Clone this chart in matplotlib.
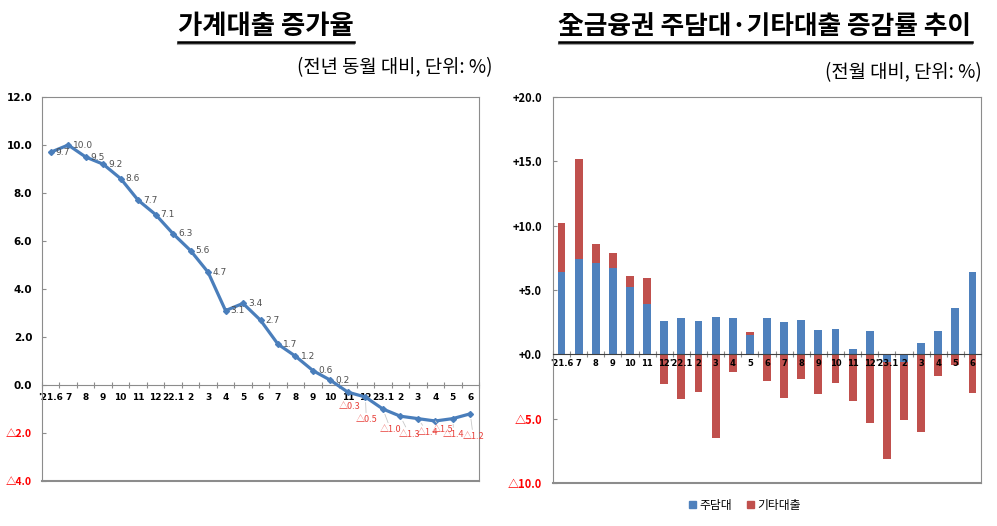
import matplotlib
matplotlib.use("Agg")
import matplotlib.pyplot as plt
import numpy as np
from matplotlib.patches import Patch
from matplotlib.lines import Line2D

plt.rcParams['font.family'] = ['Noto Sans CJK KR', 'DejaVu Sans']

# ---------------- data ----------------
left_labels = ["'21.6", "7", "8", "9", "10", "11", "12", "22.1", "2", "3", "4", "5", "6",
               "7", "8", "9", "10", "11", "12", "23.1", "2", "3", "4", "5", "6"]
hh_growth = [9.7, 10.0, 9.5, 9.2, 8.6, 7.7, 7.1, 6.3, 5.6, 4.7, 3.1, 3.4, 2.7,
             1.7, 1.2, 0.6, 0.2, -0.3, -0.5, -1.0, -1.3, -1.4, -1.5, -1.4, -1.2]

right_labels = ["'21.6", "7", "8", "9", "10", "11", "12", "'22.1", "2", "3", "4", "5", "6",
                "7", "8", "9", "10", "11", "12", "'23.1", "2", "3", "4", "5", "6"]
mortgage = [6.4, 7.4, 7.1, 6.7, 5.2, 3.9, 2.6, 2.8, 2.6, 2.9, 2.8, 1.5, 2.8,
            2.5, 2.7, 1.9, 1.95, 0.4, 1.8, -0.6, -0.6, 0.9, 1.8, 3.6, 6.4]
other = [3.8, 7.8, 1.5, 1.2, 0.9, 2.0, -2.3, -3.5, -2.9, -6.5, -1.4, 0.2, -2.1,
         -3.4, -1.9, -3.1, -2.2, -3.6, -5.3, -7.5, -4.5, -6.0, -1.7, -0.8, -3.0]

left_yticks = [12.0, 10.0, 8.0, 6.0, 4.0, 2.0, 0.0, -2.0, -4.0]
right_yticks = [20.0, 15.0, 10.0, 5.0, 0.0, -5.0, -10.0]

# label offsets (pixels) for negative values of the left chart
neg_offsets = [(2, -14), (1, -23), (8, -21), (9, -18), (10, -14), (7, -9), (1, -16), (3, -23)]

BLUE = '#4A7EBB'
BAR_BLUE = '#4F81BD'
BAR_RED = '#C0504D'
RED = '#FF0000'
LRED = '#E8403A'
GRAY = '#8C8C8C'

fig = plt.figure(figsize=(9.97, 5.26), dpi=100)
W, H = 997, 526

def ax_rect(x0, y0, x1, y1):
    return [x0 / W, 1 - y1 / H, (x1 - x0) / W, (y1 - y0) / H]

def fmt_signed(v, plus):
    if v < 0:
        return '△' + f'{abs(v):.1f}'
    return ('+' if plus else '') + f'{v:.1f}'

# ---------------- left chart ----------------
ax1 = fig.add_axes(ax_rect(42, 97, 479, 481))
n = len(hh_growth)
x = np.arange(n)
ax1.plot(x, hh_growth, color=BLUE, lw=2.3, marker='D', ms=3, zorder=3)
ax1.set_xlim(-0.5, n - 0.5)
ax1.set_ylim(-4, 12)
ax1.set_yticks(left_yticks)
ax1.set_yticklabels([fmt_signed(v, False) for v in left_yticks],
                    fontsize=7.5, fontweight='bold', family=['DejaVu Sans'])
for lab, v in zip(ax1.get_yticklabels(), left_yticks):
    if v < 0:
        lab.set_color(RED)
        lab.set_family(['Noto Sans CJK KR', 'DejaVu Sans'])
ax1.tick_params(axis='y', direction='in', length=3, pad=7, color=GRAY)
for s in ['top', 'right', 'left']:
    ax1.spines[s].set_color(GRAY)
ax1.spines['bottom'].set_position(('data', 0))
ax1.spines['bottom'].set_color(GRAY)
ax1.axhline(-4, color=GRAY, lw=1.5, clip_on=False)
ax1.set_xticks(np.arange(n + 1) - 0.5)
ax1.set_xticklabels([])
ax1.tick_params(axis='x', which='major', direction='inout', length=4, color=GRAY)
ax1.set_xticks(x, minor=True)
ax1.set_xticklabels(left_labels, minor=True, fontsize=6.5, fontweight='bold', family=['DejaVu Sans'])
ax1.tick_params(axis='x', which='minor', length=0, pad=6)

ni = 0
for i, v in enumerate(hh_growth):
    if v >= 0:
        ax1.annotate(f'{v:.1f}', (i, v), xytext=(5, 0), textcoords='offset pixels',
                     ha='left', va='center', fontsize=6.5, color='#505050', family=['DejaVu Sans'])
    else:
        dx, dy = neg_offsets[ni]
        ni += 1
        ap = None if ni == 1 else dict(arrowstyle='-', color='#C8C8C8', lw=0.6, shrinkA=0, shrinkB=4)
        ax1.annotate('△' + f'{abs(v):.1f}', (i, v), xytext=(dx, dy), textcoords='offset pixels',
                     ha='center', va='center', fontsize=6.5, color=LRED, arrowprops=ap)

# ---------------- right chart ----------------
ax2 = fig.add_axes(ax_rect(553, 97, 981, 483))
m = len(mortgage)
xr = np.arange(m)
mort = np.array(mortgage)
oth = np.array(other)
bottom_other = np.where(np.sign(oth) == np.sign(mort), mort, 0.0)
ax2.bar(xr, mort, width=0.46, color=BAR_BLUE, label='주담대', zorder=1)
ax2.bar(xr, oth, width=0.46, bottom=bottom_other, color=BAR_RED, label='기타대출', zorder=1)
ax2.set_xlim(-0.5, m - 0.5)
ax2.set_ylim(-10, 20)
ax2.set_yticks(right_yticks)
ax2.set_yticklabels([fmt_signed(v, True) for v in right_yticks], fontsize=8, fontweight='bold')
for lab, v in zip(ax2.get_yticklabels(), right_yticks):
    if v < 0:
        lab.set_color(RED)
ax2.tick_params(axis='y', direction='in', length=3, pad=8, color=GRAY)
for s in ['top', 'right', 'left']:
    ax2.spines[s].set_color(GRAY)
ax2.spines['bottom'].set_position(('data', 0))
ax2.spines['bottom'].set_color('#404040')
ax2.axhline(-10, color=GRAY, lw=1.5, clip_on=False)
ax2.set_xticks(np.arange(m + 1) - 0.5)
ax2.set_xticklabels([])
ax2.tick_params(axis='x', which='major', direction='inout', length=4, color=GRAY)
ax2.set_xticks(xr, minor=True)
ax2.set_xticklabels(right_labels, minor=True, fontsize=6, fontweight='bold', family=['DejaVu Sans'])
ax2.tick_params(axis='x', which='minor', length=0, pad=3)

handles = [Patch(color=BAR_BLUE, label='주담대'), Patch(color=BAR_RED, label='기타대출')]
fig.legend(handles=handles, loc='center', bbox_to_anchor=(745 / W, 1 - 505 / H), ncol=2,
           frameon=False, fontsize=8.5, handlelength=0.6, handleheight=0.6, handletextpad=0.3,
           columnspacing=1.2)

# ---------------- titles ----------------
t1 = fig.text(266 / W, 1 - 27 / H, '가계대출 증가율', ha='center', va='center',
              fontsize=19, fontweight='bold')
t2 = fig.text(765 / W, 1 - 27 / H, '全금융권 주담대·기타대출 증감률 추이', ha='center', va='center',
              fontsize=18.5, fontweight='bold')
fig.text(492 / W, 1 - 68 / H, '(전년 동월 대비, 단위: %)', ha='right', va='center', fontsize=13.5)
fig.text(982 / W, 1 - 73 / H, '(전월 대비, 단위: %)', ha='right', va='center', fontsize=13.5)

fig.canvas.draw()
r = fig.canvas.get_renderer()
for t in (t1, t2):
    bb = t.get_window_extent(r)
    y = bb.y0 - 1
    fig.add_artist(Line2D([bb.x0 / W, bb.x1 / W], [(y - 2) / H, (y - 2) / H],
                          color='#A0A0A0', lw=1.5, transform=fig.transFigure))
    fig.add_artist(Line2D([bb.x0 / W, bb.x1 / W], [y / H, y / H],
                          color='black', lw=1.8, transform=fig.transFigure))

fig.savefig('out.png', dpi=100)
